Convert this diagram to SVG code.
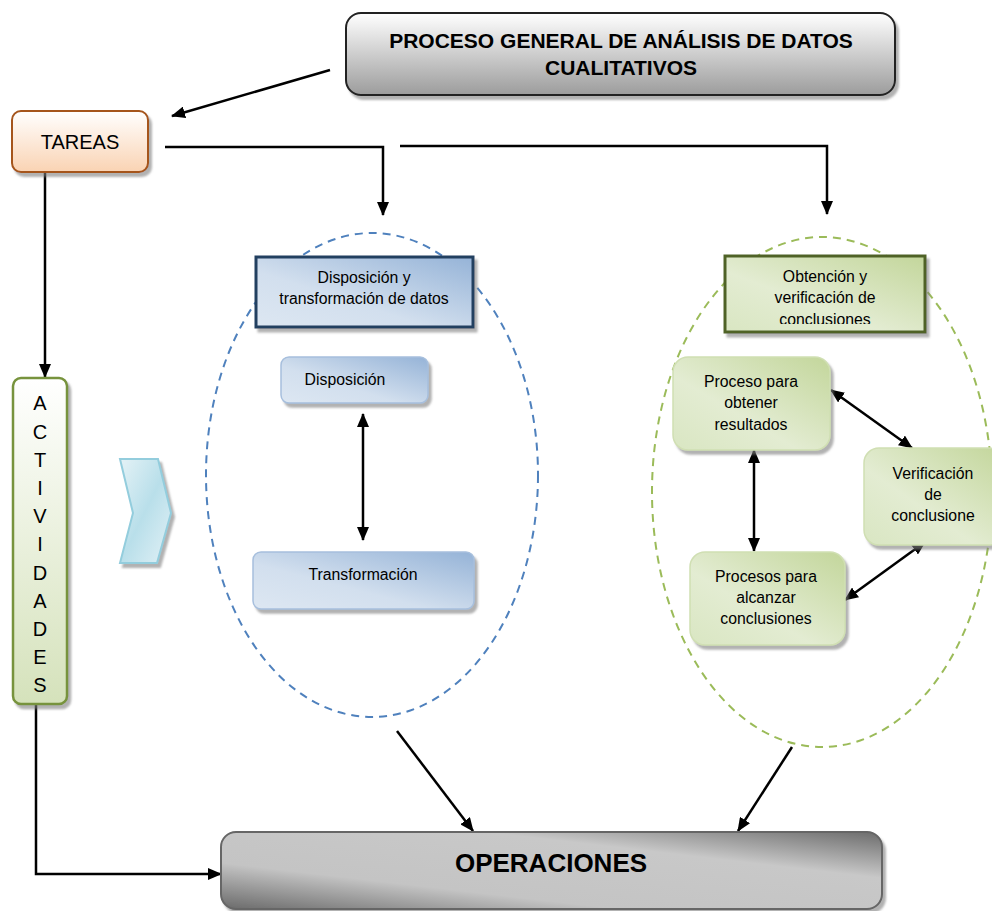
<svg xmlns="http://www.w3.org/2000/svg" width="992" height="911" viewBox="0 0 992 911">
<defs>
<style>
text{font-family:"Liberation Sans",Arial,sans-serif;fill:#000;text-anchor:middle}
.conn{stroke:#000;stroke-width:2.5;fill:none}
.sub{font-size:15.8px}
</style>
<marker id="ah" viewBox="0 0 14 12" refX="13" refY="6" markerWidth="14" markerHeight="12" markerUnits="userSpaceOnUse" orient="auto-start-reverse">
<path d="M0,0 L14,6 L0,12 Z" fill="#000"/>
</marker>
<filter id="sh" x="-10%" y="-10%" width="130%" height="130%">
<feDropShadow dx="3" dy="4" stdDeviation="0.8" flood-color="#7f7f7f" flood-opacity="0.6"/>
</filter>
<linearGradient id="gTitle" x1="0" y1="0" x2="0" y2="1">
<stop offset="0" stop-color="#ffffff"/><stop offset="1" stop-color="#9c9c9c"/>
</linearGradient>
<linearGradient id="gOper" x1="0" y1="1" x2="1" y2="0">
<stop offset="0" stop-color="#6a6a6a"/><stop offset="0.3" stop-color="#c4c4c4"/><stop offset="0.7" stop-color="#c8c8c8"/><stop offset="1" stop-color="#6c6c6c"/>
</linearGradient>
<linearGradient id="gTar" x1="0" y1="0" x2="0" y2="1">
<stop offset="0" stop-color="#ffffff"/><stop offset="1" stop-color="#fad3b3"/>
</linearGradient>
<linearGradient id="gAct" x1="0" y1="0" x2="0" y2="1">
<stop offset="0" stop-color="#ffffff"/><stop offset="1" stop-color="#d5e2bb"/>
</linearGradient>
<linearGradient id="gChev" x1="0" y1="0" x2="1" y2="1">
<stop offset="0" stop-color="#e4f2f6"/><stop offset="0.5" stop-color="#b9dfea"/><stop offset="1" stop-color="#e2f1f6"/>
</linearGradient>
<linearGradient id="gBlue" x1="1" y1="0" x2="0" y2="1">
<stop offset="0" stop-color="#95b3d7"/><stop offset="0.6" stop-color="#d2dfee"/><stop offset="1" stop-color="#dde7f2"/>
</linearGradient>
<linearGradient id="gGreen" x1="1" y1="0" x2="0" y2="1">
<stop offset="0" stop-color="#c3d69b"/><stop offset="0.6" stop-color="#e3ecd2"/><stop offset="1" stop-color="#d9e6c2"/>
</linearGradient>
</defs>

<g id="ellipse-blue"><ellipse cx="372" cy="475" rx="166" ry="242" fill="none" stroke="#4f81bd" stroke-width="2" stroke-dasharray="8,6"/></g>
<g id="ellipse-green"><ellipse cx="822" cy="492" rx="170" ry="255" fill="none" stroke="#9bbb59" stroke-width="2" stroke-dasharray="8,6"/></g>

<g id="connectors">
<line class="conn" x1="330" y1="70" x2="172" y2="116" marker-end="url(#ah)"/>
<polyline class="conn" points="165,147 383,147 383,215" marker-end="url(#ah)"/>
<polyline class="conn" points="400,146 827,146 827,214" marker-end="url(#ah)"/>
<line class="conn" x1="45" y1="172" x2="45" y2="377" marker-end="url(#ah)"/>
<polyline class="conn" points="36,704 36,874 221,874" marker-end="url(#ah)"/>
<line class="conn" x1="363" y1="414" x2="363" y2="540" marker-start="url(#ah)" marker-end="url(#ah)"/>
<line class="conn" x1="754" y1="450" x2="754" y2="551" marker-start="url(#ah)" marker-end="url(#ah)"/>
<line class="conn" x1="831" y1="390" x2="912" y2="448" marker-start="url(#ah)" marker-end="url(#ah)"/>
<line class="conn" x1="845" y1="600" x2="925" y2="542" marker-start="url(#ah)" marker-end="url(#ah)"/>
<line class="conn" x1="397" y1="731" x2="473" y2="831" marker-end="url(#ah)"/>
<line class="conn" x1="792" y1="747" x2="738" y2="831" marker-end="url(#ah)"/>
</g>

<g id="title">
<rect x="346" y="13" width="549" height="82" rx="15" fill="url(#gTitle)" stroke="#222" stroke-width="2" filter="url(#sh)"/>
<text x="621" y="48" font-size="21" font-weight="bold">PROCESO GENERAL DE ANÁLISIS DE DATOS</text>
<text x="621" y="75" font-size="21" font-weight="bold">CUALITATIVOS</text>
</g>

<g id="tareas">
<rect x="12" y="111" width="136" height="61" rx="9" fill="url(#gTar)" stroke="#a5541b" stroke-width="2" filter="url(#sh)"/>
<text x="80" y="149" font-size="20">TAREAS</text>
</g>

<g id="actividades">
<rect x="13" y="378" width="54" height="326" rx="8" fill="url(#gAct)" stroke="#77933c" stroke-width="2.5" filter="url(#sh)"/>
<g font-size="20">
<text x="40" y="410">A</text>
<text x="40" y="439">C</text>
<text x="40" y="467">T</text>
<text x="40" y="495">I</text>
<text x="40" y="523">V</text>
<text x="40" y="551">I</text>
<text x="40" y="580">D</text>
<text x="40" y="608">A</text>
<text x="40" y="636">D</text>
<text x="40" y="664">E</text>
<text x="40" y="692">S</text>
</g>
</g>

<g id="chevron">
<polygon points="120,459 158,459 171,513 157,563 120,563 133,513" fill="url(#gChev)" stroke="#93cddd" stroke-width="2" filter="url(#sh)"/>
</g>

<g id="disp-trans">
<rect x="256" y="257" width="217" height="70" fill="url(#gBlue)" stroke="#243f60" stroke-width="3" filter="url(#sh)"/>
<text class="sub" x="364" y="283">Disposición y</text>
<text class="sub" x="364" y="304">transformación de datos</text>
</g>

<g id="disposicion">
<rect x="281" y="357" width="147" height="46" rx="8" fill="url(#gBlue)" stroke="#a7bfdd" stroke-width="1.5" filter="url(#sh)"/>
<text class="sub" x="345" y="385">Disposición</text>
</g>

<g id="transformacion">
<rect x="253" y="552" width="221" height="57" rx="8" fill="url(#gBlue)" stroke="#a7bfdd" stroke-width="1.5" filter="url(#sh)"/>
<text class="sub" x="363" y="580">Transformación</text>
</g>

<g id="obtencion">
<rect x="725" y="256" width="200" height="76" fill="url(#gGreen)" stroke="#4f6228" stroke-width="3" filter="url(#sh)"/>
<svg x="726" y="257" width="198" height="67" overflow="hidden">
<text class="sub" x="99" y="25">Obtención y</text>
<text class="sub" x="99" y="46">verificación de</text>
<text class="sub" x="99" y="68">conclusiones</text>
</svg>
</g>

<g id="proceso-resultados">
<rect x="673" y="357" width="157" height="93" rx="15" fill="url(#gGreen)" stroke="#d0dfb3" stroke-width="1.5" filter="url(#sh)"/>
<text class="sub" x="751" y="387">Proceso para</text>
<text class="sub" x="751" y="408">obtener</text>
<text class="sub" x="751" y="430">resultados</text>
</g>

<g id="verificacion">
<rect x="864" y="448" width="140" height="97" rx="15" fill="url(#gGreen)" stroke="#d0dfb3" stroke-width="1.5" filter="url(#sh)"/>
<text class="sub" x="933" y="479">Verificación</text>
<text class="sub" x="933" y="500">de</text>
<text class="sub" x="933" y="521">conclusione</text>
</g>

<g id="procesos-conclusiones">
<rect x="690" y="552" width="155" height="93" rx="15" fill="url(#gGreen)" stroke="#d0dfb3" stroke-width="1.5" filter="url(#sh)"/>
<text class="sub" x="766" y="582">Procesos para</text>
<text class="sub" x="766" y="603">alcanzar</text>
<text class="sub" x="766" y="624">conclusiones</text>
</g>

<g id="operaciones">
<rect x="221" y="832" width="661" height="77" rx="15" fill="url(#gOper)" stroke="#666" stroke-width="2" filter="url(#sh)"/>
<text x="551" y="872" font-size="26" font-weight="bold">OPERACIONES</text>
</g>
</svg>
